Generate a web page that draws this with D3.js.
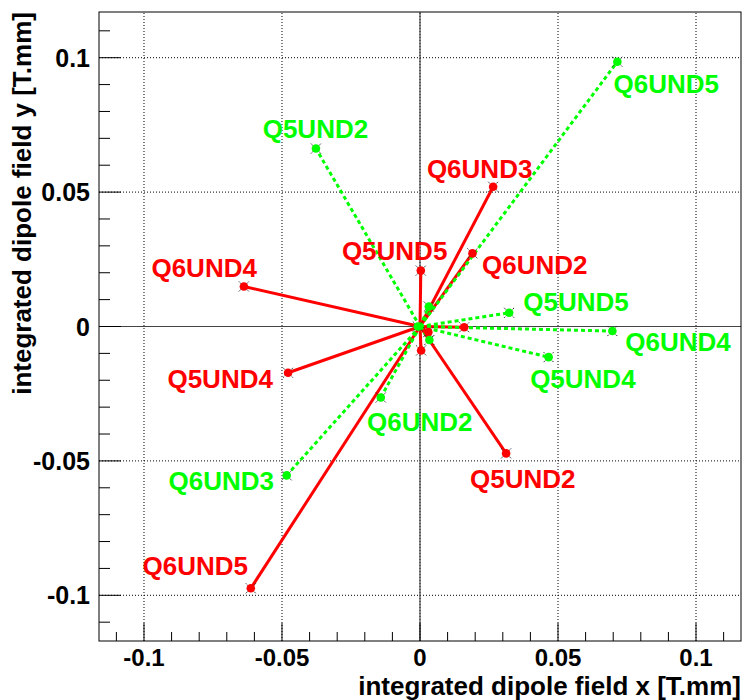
<!DOCTYPE html>
<html>
<head>
<meta charset="utf-8">
<script src="https://cdn.jsdelivr.net/npm/d3@7"></script>
<style>
  body { margin: 0; background: #fff; }
  text { font-family: "Liberation Sans", Arial, sans-serif; font-weight: bold; }
</style>
</head>
<body>
<svg width="746" height="700"></svg>
<script>
// red series (solid lines)
const redNames = ["Q6UND3", "Q5UND5", "Q6UND2", "Q6UND4", "Q5UND4", "Q5UND2", "Q6UND5", "", "", ""];
const redX = [0.0265, 0.0003, 0.019, -0.0638, -0.0478, 0.0312, -0.0613, 0.003, 0.0004, 0.016];
const redY = [0.052, 0.0208, 0.0272, 0.0149, -0.0172, -0.0472, -0.0974, -0.0021, -0.0089, -0.0003];
const redLabelX = [0.0025, -0.0283, 0.0225, -0.0973, -0.0915, 0.0181, -0.1005];
const redLabelY = [0.0554, 0.0249, 0.0197, 0.0186, -0.0230, -0.0599, -0.0926];

// green series (dotted lines)
const greenNames = ["Q5UND2", "Q6UND5", "Q5UND5", "Q6UND4", "Q5UND4", "Q6UND2", "Q6UND3", "", "", ""];
const greenX = [-0.0377, 0.0715, 0.0323, 0.0697, 0.0466, -0.0142, -0.0483, 0.0032, -0.0008, 0.0034];
const greenY = [0.0662, 0.0985, 0.0051, -0.0017, -0.0114, -0.0264, -0.0554, 0.0074, 0.0, -0.005];
const greenLabelX = [-0.0570, 0.0701, 0.0374, 0.0744, 0.0399, -0.0192, -0.0911];
const greenLabelY = [0.0703, 0.0870, 0.0056, -0.0093, -0.0230, -0.0390, -0.0610];

const tickValues = d3.range(-11, 12).map(i => i / 100);

const svg = d3.select("svg");

const x = d3.scaleLinear().domain([-0.1163, 0.1163]).range([99, 741]);
const y = d3.scaleLinear().domain([-0.117, 0.117]).range([641, 12]);

const fmt = v => String(+v.toFixed(2));
const isMajor = v => Math.round(v * 100) % 5 === 0;

// grid
svg.append("g")
  .selectAll("line")
  .data(tickValues.filter(isMajor))
  .join("line")
    .attr("x1", d => x(d)).attr("x2", d => x(d))
    .attr("y1", y.range()[0]).attr("y2", y.range()[1])
    .attr("stroke", "#000").attr("stroke-dasharray", "1,2");
svg.append("g")
  .selectAll("line")
  .data(tickValues.filter(isMajor))
  .join("line")
    .attr("y1", d => y(d)).attr("y2", d => y(d))
    .attr("x1", x.range()[0]).attr("x2", x.range()[1])
    .attr("stroke", "#000").attr("stroke-dasharray", "1,2");

// zero axes
svg.append("line").attr("x1", x(0)).attr("x2", x(0)).attr("y1", 641).attr("y2", 12)
  .attr("stroke", "#444").attr("stroke-width", 1.2);
svg.append("line").attr("x1", 99).attr("x2", 741).attr("y1", y(0)).attr("y2", y(0))
  .attr("stroke", "#444").attr("stroke-width", 1.2);

// ticks
svg.append("g")
  .selectAll("line")
  .data(tickValues)
  .join("line")
    .attr("x1", d => x(d)).attr("x2", d => x(d))
    .attr("y1", 641).attr("y2", d => isMajor(d) ? 623 : 632)
    .attr("stroke", "#000");
svg.append("g")
  .selectAll("line")
  .data(tickValues)
  .join("line")
    .attr("y1", d => y(d)).attr("y2", d => y(d))
    .attr("x1", 99).attr("x2", d => isMajor(d) ? 121 : 110)
    .attr("stroke", "#000");

// tick labels
svg.append("g")
  .selectAll("text")
  .data(tickValues.filter(d => isMajor(d) && Math.abs(d) <= 0.1))
  .join("text")
    .attr("x", d => x(d)).attr("y", 666)
    .attr("text-anchor", "middle")
    .style("font-size", "24px")
    .text(fmt);
svg.append("g")
  .selectAll("text")
  .data(tickValues.filter(d => isMajor(d) && Math.abs(d) <= 0.1))
  .join("text")
    .attr("x", 90).attr("y", d => y(d) + 9)
    .attr("text-anchor", "end")
    .style("font-size", "25px")
    .text(fmt);

// axis titles
svg.append("text").attr("x", 741).attr("y", 695)
  .attr("text-anchor", "end").style("font-size", "26px")
  .text("integrated dipole field x [T.mm]");
svg.append("text").attr("transform", "translate(31,12) rotate(-90)")
  .attr("text-anchor", "end").style("font-size", "26px")
  .text("integrated dipole field y [T.mm]");

// frame
svg.append("rect").attr("x", 99).attr("y", 12).attr("width", 642).attr("height", 629)
  .attr("fill", "none").attr("stroke", "#000");

const series = [
  {xs: redX, ys: redY, names: redNames, lx: redLabelX, ly: redLabelY, color: "#ff0000", dash: null},
  {xs: greenX, ys: greenY, names: greenNames, lx: greenLabelX, ly: greenLabelY, color: "#00ff00", dash: "4,3"}
];

// lines first, both series
series.forEach(s => {
  const pts = s.xs.map((v, i) => ({x: v, y: s.ys[i]}));
  svg.append("g")
    .selectAll("line")
    .data(pts)
    .join("line")
      .attr("x1", x(0)).attr("y1", y(0))
      .attr("x2", d => x(d.x)).attr("y2", d => y(d.y))
      .attr("stroke", s.color).attr("stroke-width", 3)
      .attr("stroke-dasharray", s.dash);
});

// markers: black x with colored dot on top
series.forEach(s => {
  const pts = s.xs.map((v, i) => ({x: v, y: s.ys[i]}));
  const m = svg.append("g").selectAll("g").data(pts).join("g")
    .attr("transform", d => `translate(${x(d.x)},${y(d.y)})`);
  m.append("path").attr("d", "M-5,-5L5,5M-5,5L5,-5")
    .attr("stroke", "#222").attr("stroke-width", 1).attr("stroke-dasharray", "1.5,1");
  m.append("circle").attr("r", 4.3).attr("fill", s.color);
});

// labels
series.forEach(s => {
  svg.append("g")
    .selectAll("text")
    .data(s.lx.map((v, i) => ({x: v, y: s.ly[i], name: s.names[i]})))
    .join("text")
      .attr("x", d => x(d.x)).attr("y", d => y(d.y))
      .attr("fill", s.color).style("font-size", "26px")
      .text(d => d.name);
});
</script>
</body>
</html>
